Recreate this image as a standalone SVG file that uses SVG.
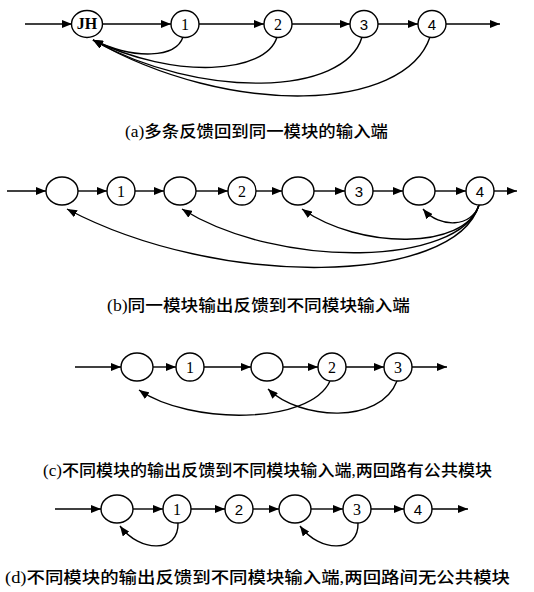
<svg xmlns="http://www.w3.org/2000/svg" width="534" height="592" viewBox="0 0 534 592">
  <style>
    .node ellipse { fill: #fff; stroke: #000; stroke-width: 1.4; }
    .lbl { font-family: "Liberation Serif", serif; font-size: 16px; text-anchor: middle; fill: #000; }
    .lbl-s { font-family: "Liberation Sans", sans-serif; font-size: 15px; text-anchor: middle; fill: #000; }
    .edges path, .edges line { fill: none; stroke: #000; stroke-width: 1.4; marker-end: url(#arr); }
    .cap { font-family: "Liberation Serif", "Noto Sans CJK SC", serif; font-size: 16px; fill: #000; font-weight: 500; }
  </style>
  <defs>
    <marker id="arr" markerUnits="userSpaceOnUse" markerWidth="11" markerHeight="8" refX="10" refY="4" orient="auto">
      <path d="M0,0 L10,4 L0,8 z" fill="#000"/>
    </marker>
  </defs>
  <rect width="534" height="592" fill="#fff"/>

  <!-- (a) several feedback loops into one module -->
  <g class="edges" id="edges-a">
    <line x1="25" y1="24" x2="72" y2="24"/>
    <line x1="102" y1="24" x2="171" y2="24"/>
    <line x1="199" y1="24" x2="264" y2="24"/>
    <line x1="292" y1="24" x2="350" y2="24"/>
    <line x1="378" y1="24" x2="418" y2="24"/>
    <line x1="446" y1="24" x2="500" y2="24"/>
    <path d="M183,37 C176,58 135,60 93,40"/>
    <path d="M277,37 C266,74 175,80 93,40"/>
    <path d="M362,37 C345,96 200,100 93,40"/>
    <path d="M430,37 C405,112 230,118 93,40"/>
  </g>
  <g class="node" id="a-jh"><ellipse cx="87" cy="24" rx="15.5" ry="13.5"/><text class="lbl" x="87" y="29" font-weight="bold" font-size="14">JH</text></g>
  <g class="node" id="a-1"><ellipse cx="185" cy="24" rx="14" ry="13.5"/><text class="lbl" x="185" y="29.5">1</text></g>
  <g class="node" id="a-2"><ellipse cx="278" cy="24" rx="14" ry="13.5"/><text class="lbl" x="278" y="29.5">2</text></g>
  <g class="node" id="a-3"><ellipse cx="364" cy="24" rx="14" ry="13.5"/><text class="lbl-s" x="364" y="29.5">3</text></g>
  <g class="node" id="a-4"><ellipse cx="432" cy="24" rx="14" ry="13.5"/><text class="lbl-s" x="432" y="29.5">4</text></g>
  <text class="cap" x="125" y="137" textLength="263" lengthAdjust="spacingAndGlyphs">(a)多条反馈回到同一模块的输入端</text>

  <!-- (b) one module output fed back to several inputs -->
  <g class="edges" id="edges-b">
    <line x1="7" y1="191" x2="46" y2="191"/>
    <line x1="78" y1="191" x2="107" y2="191"/>
    <line x1="135" y1="191" x2="164" y2="191"/>
    <line x1="196" y1="191" x2="228" y2="191"/>
    <line x1="256" y1="191" x2="282" y2="191"/>
    <line x1="314" y1="191" x2="345" y2="191"/>
    <line x1="373" y1="191" x2="403" y2="191"/>
    <line x1="435" y1="191" x2="466" y2="191"/>
    <line x1="494" y1="191" x2="517" y2="191"/>
    <path d="M479,205 C472,227 440,229 423,209"/>
    <path d="M479,205 C465,250 360,250 302,209"/>
    <path d="M479,205 C460,266 280,270 182,209"/>
    <path d="M479,205 C455,285 220,290 67,209"/>
  </g>
  <g class="node" id="b-e1"><ellipse cx="62" cy="191" rx="16" ry="14"/></g>
  <g class="node" id="b-1"><ellipse cx="121" cy="191" rx="14" ry="14"/><text class="lbl" x="121" y="196.5">1</text></g>
  <g class="node" id="b-e2"><ellipse cx="180" cy="191" rx="16" ry="14"/></g>
  <g class="node" id="b-2"><ellipse cx="242" cy="191" rx="14" ry="14"/><text class="lbl" x="242" y="196.5">2</text></g>
  <g class="node" id="b-e3"><ellipse cx="298" cy="191" rx="16" ry="14"/></g>
  <g class="node" id="b-3"><ellipse cx="359" cy="191" rx="14" ry="14"/><text class="lbl-s" x="359" y="196.5">3</text></g>
  <g class="node" id="b-e4"><ellipse cx="419" cy="191" rx="16" ry="14"/></g>
  <g class="node" id="b-4"><ellipse cx="480" cy="191" rx="14" ry="14"/><text class="lbl-s" x="480" y="196.5">4</text></g>
  <text class="cap" x="107" y="311" textLength="303" lengthAdjust="spacingAndGlyphs">(b)同一模块输出反馈到不同模块输入端</text>

  <!-- (c) two loops sharing a module -->
  <g class="edges" id="edges-c">
    <line x1="75" y1="367" x2="121" y2="367"/>
    <line x1="153" y1="367" x2="176" y2="367"/>
    <line x1="204" y1="367" x2="251" y2="367"/>
    <line x1="283" y1="367" x2="318" y2="367"/>
    <line x1="346" y1="367" x2="384" y2="367"/>
    <line x1="412" y1="367" x2="447" y2="367"/>
    <path d="M330,381 C310,425 190,425 139,390"/>
    <path d="M397,381 C380,425 300,420 268,389"/>
  </g>
  <g class="node" id="c-e1"><ellipse cx="137" cy="367" rx="16" ry="14"/></g>
  <g class="node" id="c-1"><ellipse cx="190" cy="367" rx="14" ry="14"/><text class="lbl" x="190" y="372.5">1</text></g>
  <g class="node" id="c-e2"><ellipse cx="267" cy="367" rx="16" ry="14"/></g>
  <g class="node" id="c-2"><ellipse cx="332" cy="367" rx="14" ry="14"/><text class="lbl" x="332" y="372.5">2</text></g>
  <g class="node" id="c-3"><ellipse cx="398" cy="367" rx="14" ry="14"/><text class="lbl" x="398" y="372.5">3</text></g>
  <text class="cap" x="43" y="476" textLength="449" lengthAdjust="spacingAndGlyphs">(c)不同模块的输出反馈到不同模块输入端,两回路有公共模块</text>

  <!-- (d) two loops with no shared module -->
  <g class="edges" id="edges-d">
    <line x1="55" y1="509" x2="101" y2="509"/>
    <line x1="133" y1="509" x2="163" y2="509"/>
    <line x1="191" y1="509" x2="225" y2="509"/>
    <line x1="253" y1="509" x2="279" y2="509"/>
    <line x1="311" y1="509" x2="343" y2="509"/>
    <line x1="371" y1="509" x2="404" y2="509"/>
    <line x1="432" y1="509" x2="468" y2="509"/>
    <path d="M178,523 C179,553 140,553 120,526"/>
    <path d="M358,523 C359,553 320,553 300,526"/>
  </g>
  <g class="node" id="d-e1"><ellipse cx="117" cy="509" rx="16" ry="14"/></g>
  <g class="node" id="d-1"><ellipse cx="177" cy="509" rx="14" ry="14"/><text class="lbl" x="177" y="514.5">1</text></g>
  <g class="node" id="d-2"><ellipse cx="239" cy="509" rx="14" ry="14"/><text class="lbl-s" x="239" y="514.5">2</text></g>
  <g class="node" id="d-e2"><ellipse cx="295" cy="509" rx="16" ry="14"/></g>
  <g class="node" id="d-3"><ellipse cx="357" cy="509" rx="14" ry="14"/><text class="lbl" x="357" y="514.5">3</text></g>
  <g class="node" id="d-4"><ellipse cx="418" cy="509" rx="14" ry="14"/><text class="lbl-s" x="418" y="514.5">4</text></g>
  <text class="cap" x="5" y="583" textLength="505" lengthAdjust="spacingAndGlyphs" font-size="17.5">(d)不同模块的输出反馈到不同模块输入端,两回路间无公共模块</text>
</svg>
